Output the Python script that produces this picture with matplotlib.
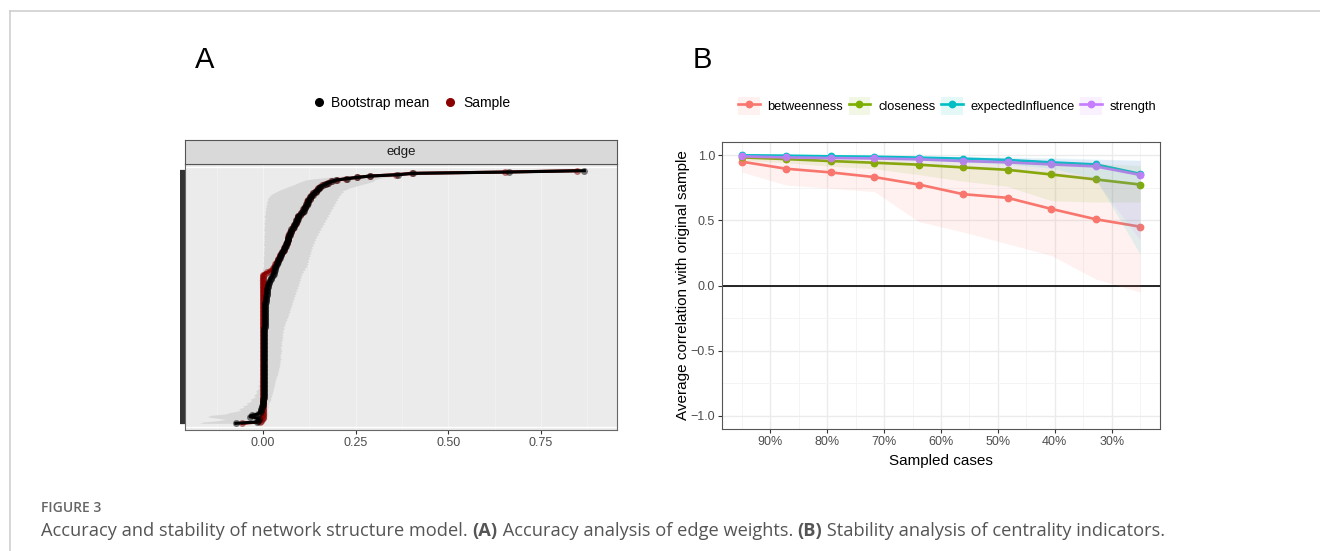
import matplotlib
matplotlib.use('Agg')
import matplotlib.pyplot as plt
from matplotlib.lines import Line2D
from matplotlib.patches import Patch
from matplotlib.legend_handler import HandlerTuple
import numpy as np

plt.rcParams['font.family'] = ['Liberation Sans', 'DejaVu Sans']

# ---- panel A: edge weights, sorted bottom -> top ----
sample_vals = [
    -0.055, -0.008, -0.004, -0.002, -0.001, 0.0, 0.0, 0.0, 0.0, 0.0,
    0.0, 0.0, 0.0, 0.0, 0.0, 0.0, 0.0, 0.0, 0.0, 0.0,
    0.0, 0.0, 0.0, 0.0, 0.0, 0.0, 0.0, 0.0, 0.0, 0.0,
    0.0, 0.0, 0.0, 0.0, 0.0, 0.0, 0.0, 0.0, 0.0, 0.0,
    0.0, 0.0, 0.0, 0.0, 0.0, 0.0, 0.0, 0.0, 0.0, 0.0,
    0.0, 0.0, 0.0, 0.0, 0.0, 0.0, 0.0, 0.0, 0.0, 0.0,
    0.0, 0.0, 0.0, 0.0, 0.0, 0.0, 0.0, 0.0, 0.0, 0.0,
    0.0, 0.0, 0.0, 0.0, 0.0, 0.0, 0.0, 0.0, 0.0, 0.0,
    0.0, 0.0, 0.0, 0.0, 0.0, 0.0, 0.0, 0.0, 0.0, 0.0,
    0.0, 0.0, 0.0, 0.0, 0.0, 0.0, 0.0, 0.0, 0.0, 0.0,
    0.0, 0.0, 0.0, 0.0, 0.0, 0.0, 0.0, 0.0, 0.0, 0.0,
    0.0, 0.0, 0.005, 0.012, 0.020, 0.025, 0.028, 0.030, 0.032, 0.034,
    0.036, 0.038, 0.040, 0.042, 0.044, 0.045, 0.047, 0.049, 0.051, 0.054,
    0.056, 0.057, 0.059, 0.061, 0.063, 0.065, 0.066, 0.067, 0.067, 0.068,
    0.069, 0.070, 0.072, 0.074, 0.076, 0.078, 0.080, 0.082, 0.084, 0.086,
    0.088, 0.090, 0.091, 0.093, 0.094, 0.095, 0.100, 0.103, 0.106, 0.109,
    0.110, 0.112, 0.114, 0.116, 0.118, 0.119, 0.120, 0.123, 0.126, 0.128,
    0.130, 0.132, 0.136, 0.140, 0.144, 0.148, 0.150, 0.155, 0.160, 0.168,
    0.175, 0.185, 0.200, 0.225, 0.255, 0.288, 0.360, 0.402, 0.653, 0.848,
]
boot_mean = [
    -0.073, -0.017, -0.012, -0.010, -0.015, -0.035, -0.030, -0.012, -0.008, -0.006,
    -0.005, -0.004, -0.003, -0.002, -0.001, 0.000, 0.001, 0.001, 0.001, 0.002,
    0.002, 0.002, 0.002, 0.002, 0.002, 0.003, 0.003, 0.003, 0.003, 0.003,
    0.003, 0.003, 0.003, 0.003, 0.003, 0.003, 0.003, 0.003, 0.003, 0.003,
    0.003, 0.003, 0.003, 0.003, 0.003, 0.003, 0.003, 0.003, 0.003, 0.003,
    0.003, 0.003, 0.004, 0.004, 0.004, 0.004, 0.004, 0.004, 0.004, 0.004,
    0.004, 0.004, 0.004, 0.004, 0.004, 0.004, 0.004, 0.004, 0.004, 0.004,
    0.004, 0.004, 0.005, 0.005, 0.005, 0.005, 0.005, 0.005, 0.005, 0.005,
    0.005, 0.005, 0.006, 0.006, 0.006, 0.006, 0.006, 0.007, 0.007, 0.007,
    0.007, 0.008, 0.008, 0.008, 0.009, 0.009, 0.010, 0.010, 0.010, 0.011,
    0.011, 0.012, 0.013, 0.014, 0.015, 0.016, 0.017, 0.019, 0.021, 0.023,
    0.025, 0.027, 0.029, 0.030, 0.031, 0.032, 0.033, 0.034, 0.036, 0.037,
    0.038, 0.040, 0.041, 0.043, 0.045, 0.046, 0.048, 0.050, 0.052, 0.055,
    0.057, 0.056, 0.060, 0.062, 0.062, 0.066, 0.065, 0.068, 0.069, 0.067,
    0.070, 0.072, 0.071, 0.075, 0.077, 0.077, 0.081, 0.083, 0.083, 0.087,
    0.089, 0.091, 0.090, 0.094, 0.096, 0.094, 0.101, 0.102, 0.107, 0.111,
    0.109, 0.114, 0.113, 0.118, 0.117, 0.121, 0.122, 0.122, 0.128, 0.127,
    0.131, 0.134, 0.135, 0.142, 0.143, 0.150, 0.152, 0.154, 0.162, 0.170,
    0.176, 0.187, 0.198, 0.227, 0.254, 0.290, 0.365, 0.405, 0.665, 0.867,
]
ci_lower = [
    -0.170, -0.160, -0.120, -0.100, -0.130, -0.150, -0.140, -0.100, -0.090, -0.070,
    -0.060, -0.065, -0.050, -0.055, -0.040, -0.045, -0.035, -0.030, -0.035, -0.025,
    -0.020, -0.025, -0.020, -0.015, -0.020, -0.015, -0.012, -0.010, -0.015, -0.010,
    -0.010, -0.008, -0.012, -0.006, -0.008, -0.005, -0.007, -0.004, -0.006, -0.003,
    -0.004, -0.006, -0.003, -0.008, -0.005, -0.004, -0.007, -0.003, -0.005, -0.004,
    -0.003, -0.005, -0.004, -0.006, -0.003, -0.004, -0.002, -0.005, -0.003, -0.004,
    -0.003, -0.002, -0.004, -0.003, -0.005, -0.002, -0.003, -0.004, -0.002, -0.003,
    -0.002, -0.004, -0.003, -0.002, -0.003, -0.005, -0.002, -0.003, -0.004, -0.003,
    -0.005, -0.003, -0.006, -0.004, -0.003, -0.007, -0.005, -0.004, -0.006, -0.005,
    -0.006, -0.004, -0.007, -0.005, -0.008, -0.006, -0.005, -0.008, -0.007, -0.006,
    -0.009, -0.007, -0.010, -0.008, -0.011, -0.009, -0.010, -0.012, -0.008, -0.010,
    -0.009, -0.006, -0.004, -0.002, 0.000, -0.002, 0.001, 0.000, 0.002, 0.001,
    0.000, 0.002, 0.001, 0.003, 0.000, 0.002, 0.004, 0.001, 0.003, 0.002,
    0.004, 0.002, 0.005, 0.003, 0.001, 0.004, 0.002, 0.005, 0.003, 0.004,
    0.002, 0.005, 0.003, 0.006, 0.004, 0.002, 0.005, 0.003, 0.006, 0.004,
    0.003, 0.006, 0.004, 0.007, 0.005, 0.003, 0.006, 0.008, 0.005, 0.007,
    0.009, 0.006, 0.010, 0.008, 0.012, 0.009, 0.011, 0.014, 0.012, 0.016,
    0.018, 0.022, 0.028, 0.035, 0.042, 0.050, 0.060, 0.068, 0.078, 0.088,
    0.095, 0.105, 0.115, 0.140, 0.175, 0.215, 0.300, 0.345, 0.615, 0.815,
]
ci_upper = [
    0.000, 0.005, 0.008, 0.010, 0.012, 0.010, 0.015, 0.012, 0.014, 0.012,
    0.013, 0.012, 0.015, 0.013, 0.016, 0.014, 0.018, 0.020, 0.022, 0.020,
    0.024, 0.022, 0.026, 0.025, 0.028, 0.026, 0.030, 0.028, 0.032, 0.030,
    0.033, 0.031, 0.035, 0.033, 0.037, 0.035, 0.040, 0.038, 0.042, 0.040,
    0.044, 0.041, 0.046, 0.043, 0.047, 0.044, 0.048, 0.045, 0.050, 0.046,
    0.048, 0.045, 0.050, 0.047, 0.052, 0.048, 0.050, 0.046, 0.052, 0.049,
    0.051, 0.048, 0.053, 0.050, 0.055, 0.051, 0.054, 0.050, 0.056, 0.053,
    0.055, 0.058, 0.054, 0.060, 0.057, 0.062, 0.059, 0.065, 0.062, 0.068,
    0.066, 0.070, 0.068, 0.073, 0.070, 0.075, 0.072, 0.078, 0.075, 0.080,
    0.077, 0.082, 0.079, 0.085, 0.081, 0.087, 0.084, 0.090, 0.086, 0.092,
    0.089, 0.095, 0.091, 0.098, 0.094, 0.100, 0.096, 0.102, 0.098, 0.104,
    0.100, 0.106, 0.103, 0.110, 0.106, 0.115, 0.111, 0.120, 0.116, 0.122,
    0.118, 0.124, 0.120, 0.126, 0.122, 0.128, 0.124, 0.130, 0.126, 0.132,
    0.128, 0.134, 0.130, 0.137, 0.133, 0.140, 0.136, 0.143, 0.139, 0.146,
    0.142, 0.150, 0.146, 0.154, 0.150, 0.158, 0.154, 0.162, 0.158, 0.166,
    0.162, 0.170, 0.166, 0.174, 0.170, 0.178, 0.174, 0.182, 0.178, 0.186,
    0.182, 0.190, 0.186, 0.194, 0.190, 0.198, 0.194, 0.202, 0.198, 0.206,
    0.202, 0.212, 0.208, 0.218, 0.214, 0.226, 0.232, 0.245, 0.258, 0.272,
    0.285, 0.298, 0.300, 0.310, 0.330, 0.360, 0.420, 0.460, 0.690, 0.900,
]
edge_ticks = [0.0, 0.25, 0.50, 0.75]
edge_ticklabels = ['0.00', '0.25', '0.50', '0.75']

# ---- panel B: case-dropping stability ----
sampled_pct = [95.0, 87.2, 79.4, 71.7, 63.9, 56.1, 48.3, 40.6, 32.8, 25.0]
betweenness = [0.949, 0.895, 0.867, 0.831, 0.774, 0.700, 0.672, 0.587, 0.508, 0.451]
closeness = [0.982, 0.969, 0.954, 0.941, 0.926, 0.905, 0.887, 0.851, 0.813, 0.774]
expected_influence = [0.998, 0.995, 0.990, 0.987, 0.980, 0.972, 0.962, 0.944, 0.928, 0.856]
strength = [0.990, 0.982, 0.977, 0.974, 0.967, 0.954, 0.944, 0.928, 0.913, 0.848]

betw_lo = [0.870, 0.770, 0.745, 0.720, 0.490, 0.410, 0.320, 0.230, 0.050, -0.050]
betw_hi = [0.990, 0.975, 0.965, 0.955, 0.940, 0.920, 0.900, 0.870, 0.830, 0.790]
clos_lo = [0.960, 0.940, 0.915, 0.895, 0.850, 0.800, 0.760, 0.650, 0.640, 0.640]
clos_hi = [0.995, 0.990, 0.985, 0.980, 0.975, 0.965, 0.955, 0.945, 0.935, 0.920]
ei_lo = [0.990, 0.985, 0.975, 0.970, 0.960, 0.945, 0.930, 0.900, 0.820, 0.240]
ei_hi = [1.000, 1.000, 0.998, 0.996, 0.994, 0.990, 0.985, 0.980, 0.970, 0.960]
str_lo = [0.975, 0.965, 0.955, 0.950, 0.935, 0.915, 0.895, 0.865, 0.800, 0.350]
str_hi = [0.998, 0.996, 0.994, 0.992, 0.988, 0.984, 0.978, 0.972, 0.965, 0.958]

measure_names = ['betweenness', 'closeness', 'expectedInfluence', 'strength']
measure_colors = ['#F8766D', '#7CAE00', '#00BFC4', '#C77CFF']
pct_ticks = [90, 80, 70, 60, 50, 40, 30]

W, H = 1320, 551
fig = plt.figure(figsize=(W / 100, H / 100), dpi=100)


def box(l, t, r, b):
    # pixel box -> figure fraction
    return [l / W, 1 - b / H, (r - l) / W, (b - t) / H]


# outer frame (top and left only)
fig.add_artist(Line2D([10 / W, 1], [1 - 11 / H, 1 - 11 / H], color='#cfcfcf', lw=1.2))
fig.add_artist(Line2D([10 / W, 10 / W], [0, 1 - 11 / H], color='#cfcfcf', lw=1.2))

# ---------------- panel A ----------------
axA = fig.add_axes(box(185, 164, 617, 430))
n_edges = len(sample_vals)
edge_id = np.arange(n_edges)
axA.set_facecolor('#EBEBEB')
for xv in [-0.125, 0.125, 0.375, 0.625, 0.875]:
    axA.axvline(xv, color='#F2F2F2', lw=0.6, zorder=0)
for xv in edge_ticks:
    axA.axvline(xv, color='#F2F2F2', lw=0.8, zorder=0)
axA.axhline(-2.5, color='white', lw=1, zorder=0.5)
axA.axhline(n_edges + 1.5, color='white', lw=1, zorder=0.5)
axA.fill_betweenx(edge_id, ci_lower, ci_upper, color='#D7D7D7', lw=0, zorder=1)
axA.plot(sample_vals, edge_id, color='#8B0000', lw=2.2, zorder=2)
axA.plot(sample_vals, edge_id, 'o', color='#8B0000', ms=5, alpha=0.5, mec='none', zorder=2)
axA.plot(boot_mean, edge_id, color='black', lw=2.2, zorder=3)
axA.plot(boot_mean, edge_id, 'o', color='black', ms=5, alpha=0.5, mec='none', zorder=3)
axA.set_xlim(-0.21, 0.955)
axA.set_ylim(-5, n_edges + 4)
axA.set_xticks(edge_ticks)
axA.set_xticklabels(edge_ticklabels)
axA.set_yticks(edge_id)
axA.set_yticklabels([])
axA.tick_params(axis='x', length=3, width=0.8, color='#333333', labelsize=9,
                labelcolor='#4D4D4D', pad=2)
axA.tick_params(axis='y', length=3.5, width=1.6, color='#333333')
for sp in axA.spines.values():
    sp.set_color('#666666')
    sp.set_linewidth(0.8)

stripA = fig.add_axes(box(185, 140, 617, 164))
stripA.set_facecolor('#D9D9D9')
stripA.set_xticks([])
stripA.set_yticks([])
for sp in stripA.spines.values():
    sp.set_color('#555555')
    sp.set_linewidth(0.8)
stripA.text(0.5, 0.5, 'edge', ha='center', va='center', fontsize=9.5, color='#1A1A1A',
            transform=stripA.transAxes)

legA = [Line2D([], [], ls='', marker='o', ms=5.5, color='black'),
        Line2D([], [], ls='', marker='o', ms=5.5, color='#8B0000')]
fig.legend(legA, ['Bootstrap mean', 'Sample'], loc='center', ncol=2, frameon=False,
           bbox_to_anchor=(411 / W, 1 - 103 / H), fontsize=10, handlelength=1.0,
           handletextpad=0.4, columnspacing=1.0)

# ---------------- panel B ----------------
axB = fig.add_axes(box(722, 142, 1160, 429))
axB.set_xlim(98.5, 21.5)
axB.set_ylim(-1.1, 1.1)
axB.set_xticks(pct_ticks)
axB.set_xticklabels(['%d%%' % p for p in pct_ticks])
axB.set_xticks([95, 85, 75, 65, 55, 45, 35, 25], minor=True)
axB.set_yticks([-1.0, -0.5, 0.0, 0.5, 1.0])
axB.set_yticklabels(['\u22121.0', '\u22120.5', '0.0', '0.5', '1.0'])
axB.set_yticks([-0.75, -0.25, 0.25, 0.75], minor=True)
axB.grid(which='major', color='#EBEBEB', lw=1.0, zorder=0)
axB.grid(which='minor', color='#F3F3F3', lw=0.6, zorder=0)
axB.set_axisbelow(True)
axB.tick_params(which='major', length=3, width=0.8, color='#333333', labelsize=9,
                labelcolor='#4D4D4D', pad=2)
axB.tick_params(which='minor', length=0)
for sp in axB.spines.values():
    sp.set_color('#555555')
    sp.set_linewidth(0.8)
axB.axhline(0, color='black', lw=1.2, zorder=1)

series = [betweenness, closeness, expected_influence, strength]
bands = [(betw_lo, betw_hi), (clos_lo, clos_hi), (ei_lo, ei_hi), (str_lo, str_hi)]
handles = []
for name, col, vals, (lo, hi) in zip(measure_names, measure_colors, series, bands):
    axB.plot(sampled_pct, vals, color=col, lw=1.9, marker='o', ms=4.6, zorder=3)
    axB.fill_between(sampled_pct, lo, hi, color=col, alpha=0.1, lw=0, zorder=4)
    handles.append((Patch(facecolor=col, alpha=0.1, edgecolor='none'),
                    Line2D([], [], color=col, lw=1.9, marker='o', ms=4.6)))
axB.set_xlabel('Sampled cases', fontsize=11, labelpad=4)
axB.set_ylabel('Average correlation with original sample', fontsize=11, labelpad=0)

fig.legend(handles, measure_names, loc='center', ncol=4, frameon=False,
           bbox_to_anchor=(947 / W, 1 - 106 / H), fontsize=9.3,
           handler_map={tuple: HandlerTuple(ndivide=1)},
           handlelength=1.7, handleheight=1.7, handletextpad=0.6, columnspacing=0.4)

# panel letters
fig.text(205 / W, 1 - 60 / H, 'A', ha='center', va='center', fontsize=21)
fig.text(702 / W, 1 - 60 / H, 'B', ha='center', va='center', fontsize=21)

# caption
cap_font = ['Open Sans', 'DejaVu Sans']
fig.text(41 / W, 1 - 508 / H, 'FIGURE 3', fontsize=10, color='#666666', weight='semibold',
         family=cap_font, va='center')
capax = fig.add_axes([0, 0, 1, 1])
capax.axis('off')
cap_parts = [
    ('Accuracy and stability of network structure model. ', 'normal'),
    ('(A)', 'bold'),
    (' Accuracy analysis of edge weights. ', 'normal'),
    ('(B)', 'bold'),
    (' Stability analysis of centrality indicators.', 'normal'),
]
prev = None
for txt, wt in cap_parts:
    if prev is None:
        prev = capax.text(41 / W, 1 - 531 / H, txt, fontsize=13.15, color='#555555',
                          weight=wt, family=cap_font, va='center', transform=fig.transFigure)
    else:
        prev = capax.annotate(txt, xy=(1, 0), xycoords=prev, va='bottom', ha='left',
                              fontsize=13.15, color='#555555', weight=wt, family=cap_font)

fig.savefig('out.png', dpi=100)
